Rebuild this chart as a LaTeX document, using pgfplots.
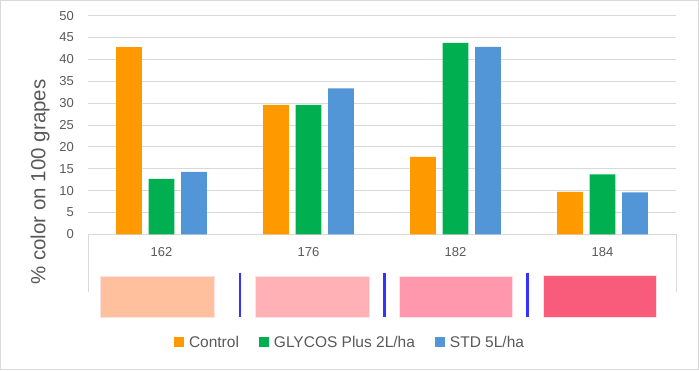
\documentclass[border=0pt]{standalone}
\usepackage{fontspec}
\setmainfont{Liberation Sans}
\usepackage{pgfplots}
\pgfplotsset{compat=1.18}
\definecolor{cOrange}{HTML}{FF9900}
\definecolor{cGreen}{HTML}{00B050}
\definecolor{cBlue}{HTML}{5296D8}
\definecolor{cGrid}{HTML}{D9D9D9}
\definecolor{cText}{HTML}{595959}
\definecolor{swA}{HTML}{FFC09E}
\definecolor{swB}{HTML}{FFB1B6}
\definecolor{swC}{HTML}{FF97AD}
\definecolor{swD}{HTML}{F95C7B}
\definecolor{swEdge}{HTML}{FFE0E6}
\definecolor{sepBlue}{HTML}{3333FF}
\begin{document}
\begin{tikzpicture}[x=1bp,y=1bp]
\path[use as bounding box] (0,0) rectangle (699,-370);
\draw[cGrid, line width=0.75bp] (0.5,-0.5) rectangle (698.5,-369.5);
\begin{axis}[
  at={(88bp,-234.3bp)}, anchor=south west,
  scale only axis, width=588bp, height=218.6bp,
  xmin=-0.5, xmax=3.5, ymin=0, ymax=50,
  ybar=6.8bp, bar width=25.7bp,
  axis line style={draw=none},
  major tick length=0pt,
  ytick={0,5,...,50},
  xtick={0,1,2,3},
  xticklabels={162,176,182,184},
  ymajorgrids, grid style={cGrid, line width=0.75bp},
  /pgf/number format/assume math mode=true,
  tick label style={font=\fontsize{13bp}{15bp}\selectfont, text=cText},
  y tick label style={anchor=east, inner sep=0pt, xshift=-14bp},
  x tick label style={anchor=center, inner sep=0pt, yshift=-18bp},
  legend columns=3,
  legend style={at={(0.4456,-0.494)}, anchor=center, draw=none, fill=none,
    font=\fontsize{15.5bp}{18bp}\selectfont, text=cText,
    /tikz/every odd column/.append style={column sep=3bp},
    /tikz/every even column/.append style={column sep=18bp}},
  legend image code/.code={\fill[#1] (0bp,-5bp) rectangle (10bp,5bp);},
]
\addplot[fill=cOrange, draw=none] coordinates {(0,42.8) (1,29.6) (2,17.7) (3,9.7)};
\addplot[fill=cGreen, draw=none] coordinates {(0,12.7) (1,29.6) (2,43.8) (3,13.7)};
\addplot[fill=cBlue, draw=none] coordinates {(0,14.3) (1,33.4) (2,42.9) (3,9.6)};
\legend{Control, GLYCOS Plus 2L/ha, STD 5L/ha}
\end{axis}
% category box sides
\draw[cGrid, line width=0.75bp] (88,-234.3) -- (88,-292);
\draw[cGrid, line width=0.75bp] (676,-234.3) -- (676,-292);
% colour swatches
\draw[swEdge, line width=0.6bp, fill=swA] (100.6,-276.5) rectangle (213.9,-317);
\draw[swEdge, line width=0.6bp, fill=swB] (255.5,-276) rectangle (369.6,-317);
\draw[swEdge, line width=0.6bp, fill=swC] (399,-276) rectangle (512.6,-317);
\draw[swEdge, line width=0.6bp, fill=swD] (542.8,-275.5) rectangle (656.5,-317);
% separators
\draw[sepBlue, line width=2.5bp] (240,-272.7) -- (240,-316.7);
\draw[sepBlue, line width=2.5bp] (384.7,-272.7) -- (384.7,-316.7);
\draw[sepBlue, line width=2.5bp] (527.7,-272.7) -- (527.7,-316.7);
% y label
\node[rotate=90, text=cText, font=\fontsize{20.5bp}{24bp}\selectfont, inner sep=0pt] at (40,-182) {\% color on 100 grapes};
\end{tikzpicture}
\end{document}
